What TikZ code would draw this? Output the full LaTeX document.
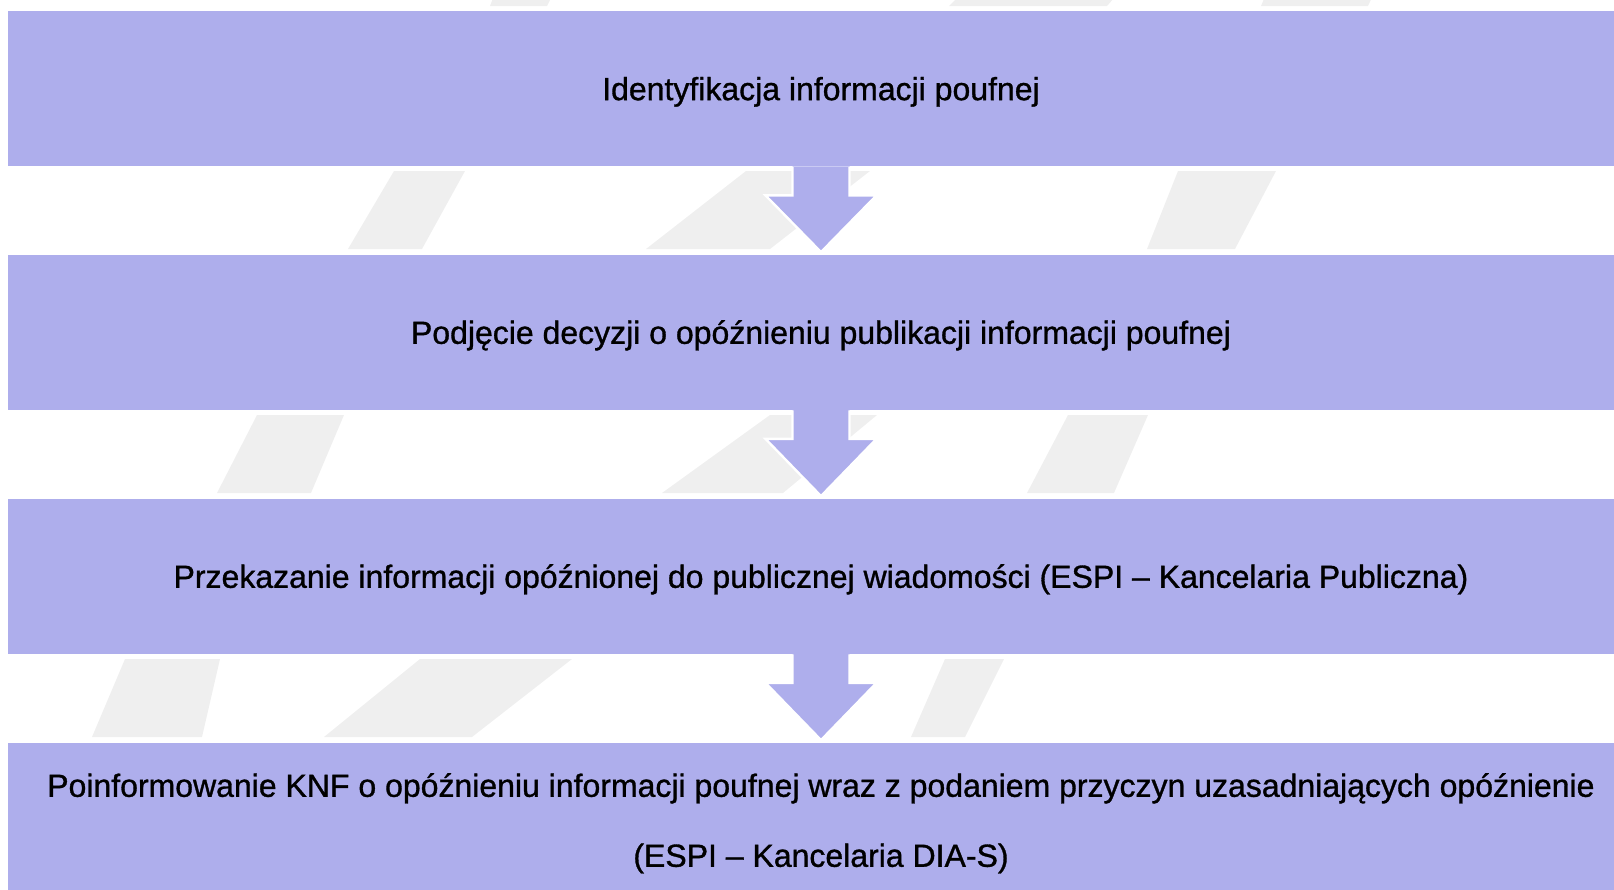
\documentclass[tikz,border=0pt]{standalone}
\usepackage{fontspec}
\setmainfont{Liberation Sans}[FakeBold=1]
\usetikzlibrary{calc}
\definecolor{boxfill}{RGB}{174,174,236}
\definecolor{wm}{RGB}{239,239,239}
\newcommand{\flowarrow}[2]{%
  \fill[boxfill] ($(#1.south)+(-28.5,0)$) -- ($(#1.south)+(-28.5,29)$) -- ($(#1.south)+(-55.5,29)$)
     -- ($(#2.north)+(0,-2)$) -- ($(#1.south)+(55.5,29)$) -- ($(#1.south)+(28.5,29)$)
     -- ($(#1.south)+(28.5,0)$) -- cycle;
  \draw[arrline] ($(#1.south)+(-28.5,0.5)$) -- ($(#1.south)+(-28.5,29)$) -- ($(#1.south)+(-55.5,29)$)
     -- ($(#2.north)+(0,-2)$) -- ($(#1.south)+(55.5,29)$) -- ($(#1.south)+(28.5,29)$)
     -- ($(#1.south)+(28.5,0.5)$);}
\begin{document}
\begin{tikzpicture}[x=0.5pt,y=-0.5pt,
  box/.style={fill=boxfill, draw=none, minimum width=813pt, minimum height=77.5pt,
              inner sep=0pt, align=center, text depth=0pt, font=\fontsize{16}{19}\selectfont},
  arrline/.style={draw=white, line width=1.2pt, line join=miter},
  wmark/.style={fill=wm, draw=none}]
\useasboundingbox (0,0) rectangle (1614,890);
% watermark shapes
\fill[wmark] (500,-20) -- (560,-20) -- (547,6) -- (490,6) -- cycle;
\fill[wmark] (975,-20) -- (1130,-20) -- (1107,6) -- (949,6) -- cycle;
\fill[wmark] (1272,-20) -- (1380,-20) -- (1368,6) -- (1261,6) -- cycle;
\fill[wmark] (394,171) -- (465,171) -- (422,249) -- (348,249) -- cycle;
\fill[wmark] (746,171) -- (870,171) -- (770,249) -- (646,249) -- cycle;
\fill[wmark] (1178,171) -- (1276,171) -- (1235,249) -- (1147,249) -- cycle;
\fill[wmark] (257,415) -- (344,415) -- (311,493) -- (217,493) -- cycle;
\fill[wmark] (770,415) -- (877,415) -- (783,493) -- (662,493) -- cycle;
\fill[wmark] (1068,415) -- (1148,415) -- (1114,493) -- (1027,493) -- cycle;
\fill[wmark] (125,659) -- (220,659) -- (202,737) -- (92,737) -- cycle;
\fill[wmark] (420,659) -- (572,659) -- (472,737) -- (324,737) -- cycle;
\fill[wmark] (945,659) -- (1004,659) -- (965,737) -- (911,737) -- cycle;
% boxes
\node[box] (b1) at (821,88.5) {Identyfikacja informacji poufnej};
\node[box] (b2) at (821,332) {Podjęcie decyzji o opóźnieniu publikacji informacji poufnej};
\node[box] (b3) at (821,576) {Przekazanie informacji opóźnionej do publicznej wiadomości (ESPI – Kancelaria Publiczna)};
\node[box, font=\fontsize{16}{35}\selectfont] (b4) at (821,820) {Poinformowanie KNF o opóźnieniu informacji poufnej wraz z podaniem przyczyn uzasadniających opóźnienie\\(ESPI – Kancelaria DIA-S)};
% arrows
\flowarrow{b1}{b2}
\flowarrow{b2}{b3}
\flowarrow{b3}{b4}
\end{tikzpicture}
\end{document}
